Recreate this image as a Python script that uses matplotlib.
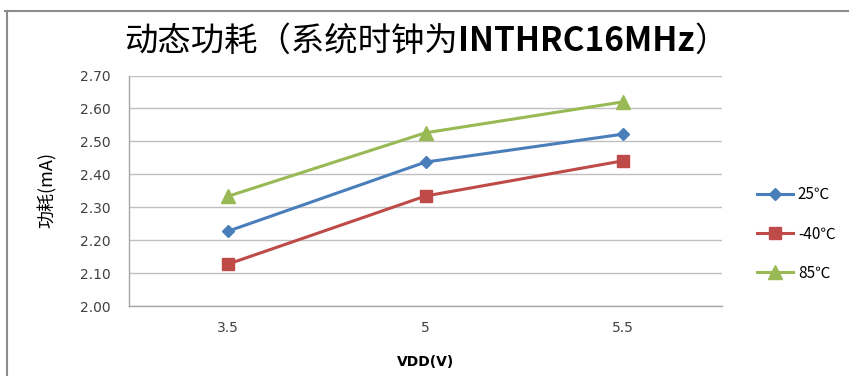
import matplotlib
matplotlib.use("Agg")
import matplotlib.pyplot as plt
from matplotlib.lines import Line2D

plt.rcParams['font.family'] = ['Noto Sans CJK SC', 'DejaVu Sans']

# supply voltage categories and current readings per temperature
vdd = ['3.5', '5', '5.5']
i_25 = [2.227, 2.437, 2.522]
i_m40 = [2.127, 2.334, 2.441]
i_85 = [2.333, 2.526, 2.620]
yticks = [2.00, 2.10, 2.20, 2.30, 2.40, 2.50, 2.60, 2.70]

fig = plt.figure(figsize=(8.49, 3.76), dpi=100)
ax = fig.add_axes([129/849, 70/376, 593/849, 230.5/376])

x = range(len(vdd))
ax.plot(x, i_25, color='#4A7EBB', lw=2.2, marker='D', ms=6.5, label='25℃')
ax.plot(x, i_m40, color='#BE4B48', lw=2.2, marker='s', ms=9, label='-40℃')
ax.plot(x, i_85, color='#98B954', lw=2.2, marker='^', ms=9.5, label='85℃')

ax.set_xlim(-0.5, 2.5)
ax.set_ylim(2.0, 2.7)
ax.set_xticks(list(x))
ax.set_xticklabels(vdd)
ax.set_yticks(yticks)
ax.set_yticklabels(['%.2f' % v for v in yticks])
ax.tick_params(length=0, labelsize=10, colors='#404040')
for lbl in ax.get_xticklabels() + ax.get_yticklabels():
    lbl.set_family('DejaVu Sans')
ax.tick_params(axis='y', pad=13)
ax.tick_params(axis='x', pad=11)
ax.grid(axis='y', color='#C0C0C0', lw=1)
ax.set_axisbelow(True)
for s in ['top', 'right']:
    ax.spines[s].set_visible(False)
for s in ['left', 'bottom']:
    ax.spines[s].set_color('#A6A6A6')
    ax.spines[s].set_linewidth(1)

ax.set_xlabel('VDD(V)', fontsize=10, fontweight='bold', family='DejaVu Sans',
              labelpad=14)
fig.text(47/849, 1 - 190/376, '功耗(mA)', rotation=90, ha='center', va='center',
         fontsize=13)

ax.legend(loc='center left', bbox_to_anchor=(1.035, 1 - (234 - 75.5) / 230.5),
          frameon=False, fontsize=11, handlelength=2.4, labelspacing=1.45,
          handletextpad=0.3)

# outer chart frame
fig.add_artist(Line2D([5/849, 1], [1 - 11/376] * 2, color='#8C8C8C', lw=1.5))
fig.add_artist(Line2D([7/849] * 2, [0, 1 - 11/376], color='#8C8C8C', lw=1.5))

# title in three runs: CJK normal, model name bold, closing paren
parts = [('动态功耗（系统时钟为', 'normal'), ('INTHRC16MHz', 'bold'), ('）', 'normal')]
texts = [fig.text(0, 1 - 51/376, s, fontsize=24, fontweight=w, va='baseline')
         for s, w in parts]
fig.canvas.draw()
r = fig.canvas.get_renderer()
widths = [t.get_window_extent(r).width for t in texts]
x0 = 426 - sum(widths) / 2
for t, w in zip(texts, widths):
    t.set_x(x0 / 849)
    x0 += w

fig.savefig('out.png', dpi=100)
